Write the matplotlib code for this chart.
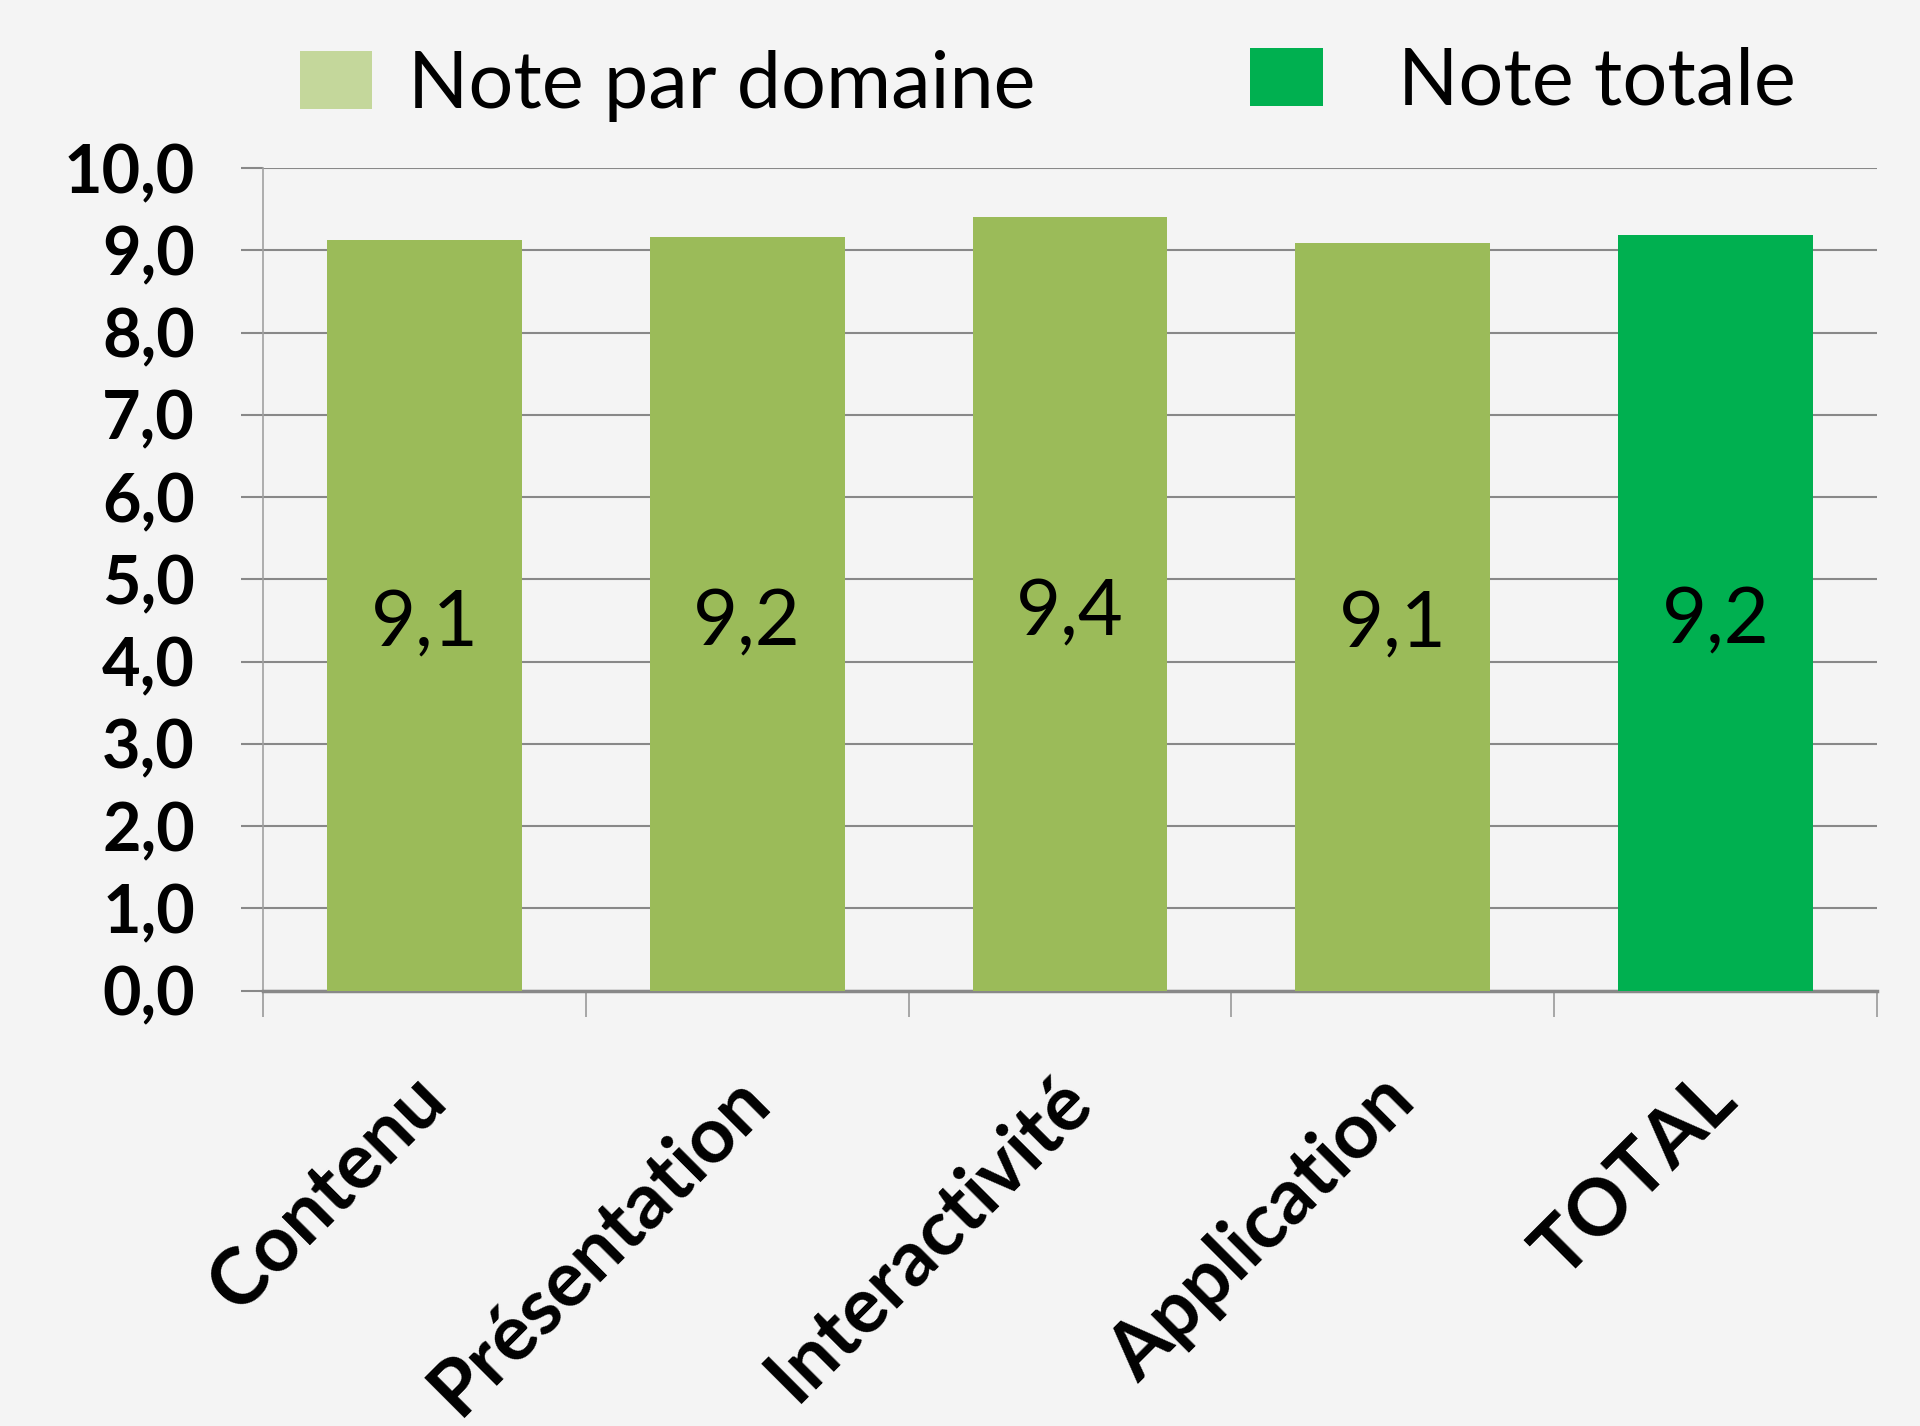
import numpy as np
import matplotlib.pyplot as plt
from matplotlib.patches import Patch
from matplotlib.transforms import ScaledTranslation

# Données
categories = ['Contenu', 'Présentation', 'Interactivité', 'Application', 'TOTAL']
notes = [9.13, 9.16, 9.40, 9.09, 9.19]
etiquettes = ['9,1', '9,2', '9,4', '9,1', '9,2']
couleurs = ['#9bbb59', '#9bbb59', '#9bbb59', '#9bbb59', '#00b050']
yticks = np.arange(0, 11, 1)

plt.rcParams['font.family'] = ['Lato', 'DejaVu Sans']

fig = plt.figure(figsize=(19.2, 14.26), dpi=100)
fig.patch.set_facecolor('#f4f4f4')
ax = fig.add_axes([0.137, 0.3053, 0.8406, 0.5769])
ax.set_facecolor('#f4f4f4')

x = np.arange(len(categories))
bars = ax.bar(x, notes, width=0.603, color=couleurs, zorder=3)

for b, lab in zip(bars, etiquettes):
    ax.annotate(lab, (b.get_x() + b.get_width() / 2, b.get_height() / 2),
                xytext=(0, -7), textcoords='offset points',
                ha='center', va='center', fontsize=56, color='black', zorder=4)

ax.set_xlim(-0.5, len(categories) - 0.5)
ax.set_ylim(0, 10)
ax.set_yticks(yticks)
ax.set_yticklabels([('%.1f' % v).replace('.', ',') for v in yticks],
                   fontsize=48, fontweight='bold')
ax.yaxis.grid(True, color='#888888', linewidth=1.5, zorder=0)
ax.tick_params(axis='y', length=16, width=1.5, color='#888888', pad=33)

ax.set_xticks(x)
ax.set_xticklabels(categories, rotation=45, ha='right', va='top',
                   rotation_mode='anchor', fontsize=56, fontweight='bold')
ax.set_xticks(np.arange(-0.5, len(categories)), minor=True)
ax.tick_params(axis='x', which='major', length=0, pad=52)
ax.tick_params(axis='x', which='minor', length=19, width=1.2, color='#999999')
decalage = ScaledTranslation(-0.16, 0, fig.dpi_scale_trans)
for lbl in ax.get_xticklabels():
    lbl.set_transform(lbl.get_transform() + decalage)

for s in ['top', 'right']:
    ax.spines[s].set_visible(False)
ax.spines['left'].set_color('#a0a0a0')
ax.spines['left'].set_linewidth(1.2)
ax.spines['bottom'].set_color('#888888')
ax.spines['bottom'].set_linewidth(2.5)

h1 = Patch(facecolor='#c4d79b', label='Note par domaine')
h2 = Patch(facecolor='#00b050', label='Note totale')
leg1 = fig.legend(handles=[h1], loc='center left', bbox_to_anchor=(0.156, 0.940),
                  frameon=False, fontsize=57, handlelength=0.92, handleheight=0.75,
                  handletextpad=0.45, borderpad=0, borderaxespad=0)
leg2 = fig.legend(handles=[h2], loc='center left', bbox_to_anchor=(0.651, 0.942),
                  frameon=False, fontsize=57, handlelength=0.92, handleheight=0.75,
                  handletextpad=0.95, borderpad=0, borderaxespad=0)

fig.savefig('out.png', dpi=100, facecolor=fig.get_facecolor())
